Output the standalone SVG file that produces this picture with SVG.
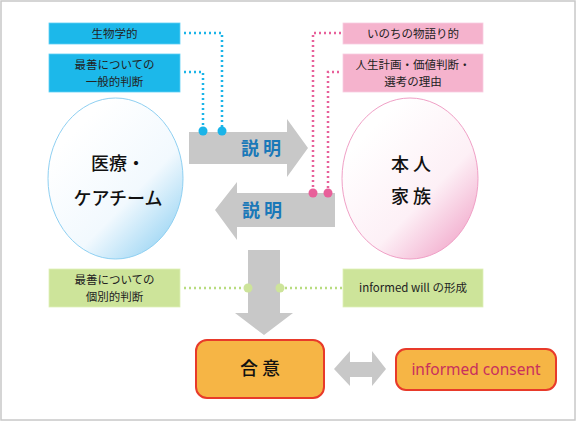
<svg xmlns="http://www.w3.org/2000/svg" width="576" height="422" viewBox="0 0 576 422">
  <style>
    .jp { font-family: "Noto Sans CJK JP", "Noto Sans", sans-serif; fill: #222; }
    .box { font-size: 11.5px; text-anchor: middle; }
    .big { font-size: 18px; text-anchor: middle; font-weight: 500; fill: #111; }
    .exp { font-size: 18px; text-anchor: middle; font-weight: bold; fill: #1a78b8; }
    .arrow { fill: #c8c8c8; }
    .bdot { stroke: #1ab4e8; stroke-width: 2.5; stroke-dasharray: 2 3; fill: none; }
    .pdot { stroke: #e8609a; stroke-width: 2.5; stroke-dasharray: 2 3; fill: none; }
    .gdot { stroke: #b8dc80; stroke-width: 2.5; stroke-dasharray: 2 3; fill: none; }
  </style>
  <defs>
    <linearGradient id="gb" x1="0.2" y1="0.2" x2="0.9" y2="1">
      <stop offset="0" stop-color="#ffffff"/>
      <stop offset="0.55" stop-color="#f2f9fe"/>
      <stop offset="1" stop-color="#8fd0f2"/>
    </linearGradient>
    <linearGradient id="gp" x1="0.2" y1="0.2" x2="0.9" y2="1">
      <stop offset="0" stop-color="#ffffff"/>
      <stop offset="0.55" stop-color="#fdf0f6"/>
      <stop offset="1" stop-color="#f0a0c6"/>
    </linearGradient>
  </defs>
  <rect x="0" y="0" width="576" height="422" fill="#ffffff"/>
  <rect x="1" y="1" width="574" height="419" fill="none" stroke="#c8c8c8" stroke-width="1.5"/>

  <g id="connectors">
    <path class="bdot" d="M184 33 H222 V131"/>
    <path class="bdot" d="M184 72 H203 V131"/>
    <path class="pdot" d="M341 33 H313 V193"/>
    <path class="pdot" d="M339 72 H328 V193"/>
    <path class="gdot" d="M184 288 H248"/>
    <path class="gdot" d="M280 288 H342"/>
  </g>

  <g id="arrow-right">
    <path class="arrow" d="M189 132 H287 V119 L308 148 L287 177 V164 H189 Z"/>
    <text class="jp exp" x="261" y="155">説 明</text>
  </g>
  <g id="arrow-left">
    <path class="arrow" d="M335 193 H237 V182 L215 210 L237 240 V227 H335 Z"/>
    <text class="jp exp" x="262" y="217">説 明</text>
  </g>
  <g id="arrow-down">
    <path class="arrow" d="M248 250 H280 V313 H293 L264 335 L235 313 H248 Z"/>
  </g>
  <g id="arrow-double">
    <path class="arrow" d="M334 369 L350 351 V362 H372 V351 L386 369 L372 386 V377 H350 V386 Z"/>
  </g>

  <g id="dots">
    <circle cx="203" cy="131" r="4.5" fill="#1ab4e8"/>
    <circle cx="222" cy="131" r="4.5" fill="#1ab4e8"/>
    <circle cx="313" cy="193" r="4.5" fill="#e8609a"/>
    <circle cx="328" cy="193" r="4.5" fill="#e8609a"/>
    <circle cx="248" cy="288" r="4.5" fill="#cde49a"/>
    <circle cx="280" cy="288" r="4.5" fill="#cde49a"/>
  </g>

  <g id="box-biological">
    <rect x="49" y="23" width="131" height="21" fill="#1cb8ea" stroke="#5fd0f5" stroke-width="0.8"/>
    <text class="jp box" x="114.5" y="38">生物学的</text>
  </g>
  <g id="box-general">
    <rect x="49" y="54" width="131" height="38" fill="#1cb8ea" stroke="#5fd0f5" stroke-width="0.8"/>
    <text class="jp box" x="114.5" y="68.5">最善についての</text>
    <text class="jp box" x="114.5" y="85.5">一般的判断</text>
  </g>
  <g id="box-story">
    <rect x="343" y="23" width="140" height="21" fill="#f5b3cd" stroke="#f8cde0" stroke-width="0.8"/>
    <text class="jp box" x="413" y="38">いのちの物語り的</text>
  </g>
  <g id="box-life">
    <rect x="343" y="54" width="140" height="38" fill="#f5b3cd" stroke="#f8cde0" stroke-width="0.8"/>
    <text class="jp box" x="413" y="68.5">人生計画・価値判断・</text>
    <text class="jp box" x="413" y="85.5">選考の理由</text>
  </g>

  <g id="node-care-team">
    <ellipse cx="115.5" cy="178.5" rx="67.5" ry="80.5" fill="url(#gb)" stroke="#8fd0f2" stroke-width="1"/>
    <text class="jp big" x="118" y="170">医療・</text>
    <text class="jp big" x="118" y="205">ケアチーム</text>
  </g>
  <g id="node-family">
    <ellipse cx="410" cy="178.5" rx="68" ry="80.5" fill="url(#gp)" stroke="#f0a0c6" stroke-width="1"/>
    <text class="jp big" x="411" y="171">本 人</text>
    <text class="jp big" x="411" y="203">家 族</text>
  </g>

  <g id="box-individual">
    <rect x="49" y="269" width="131" height="38" fill="#cde49a" stroke="#dff0b8" stroke-width="0.8"/>
    <text class="jp box" x="114.5" y="284">最善についての</text>
    <text class="jp box" x="114.5" y="301">個別的判断</text>
  </g>
  <g id="box-will">
    <rect x="343" y="269" width="140" height="38" fill="#cde49a" stroke="#dff0b8" stroke-width="0.8"/>
    <text class="jp box" x="413" y="292">informed will の形成</text>
  </g>

  <g id="node-agreement">
    <rect x="196" y="340" width="128" height="58" rx="11" fill="#f6b545" stroke="#e83a2a" stroke-width="2"/>
    <text class="jp big" x="260" y="375" font-weight="bold">合 意</text>
  </g>
  <g id="node-consent">
    <rect x="396" y="349" width="160" height="41" rx="10" fill="#f6b545" stroke="#e83a2a" stroke-width="2"/>
    <text x="476" y="375" font-family="'Noto Sans', 'Liberation Sans', sans-serif" font-size="15.5" text-anchor="middle" fill="#c8305e">informed consent</text>
  </g>
</svg>
